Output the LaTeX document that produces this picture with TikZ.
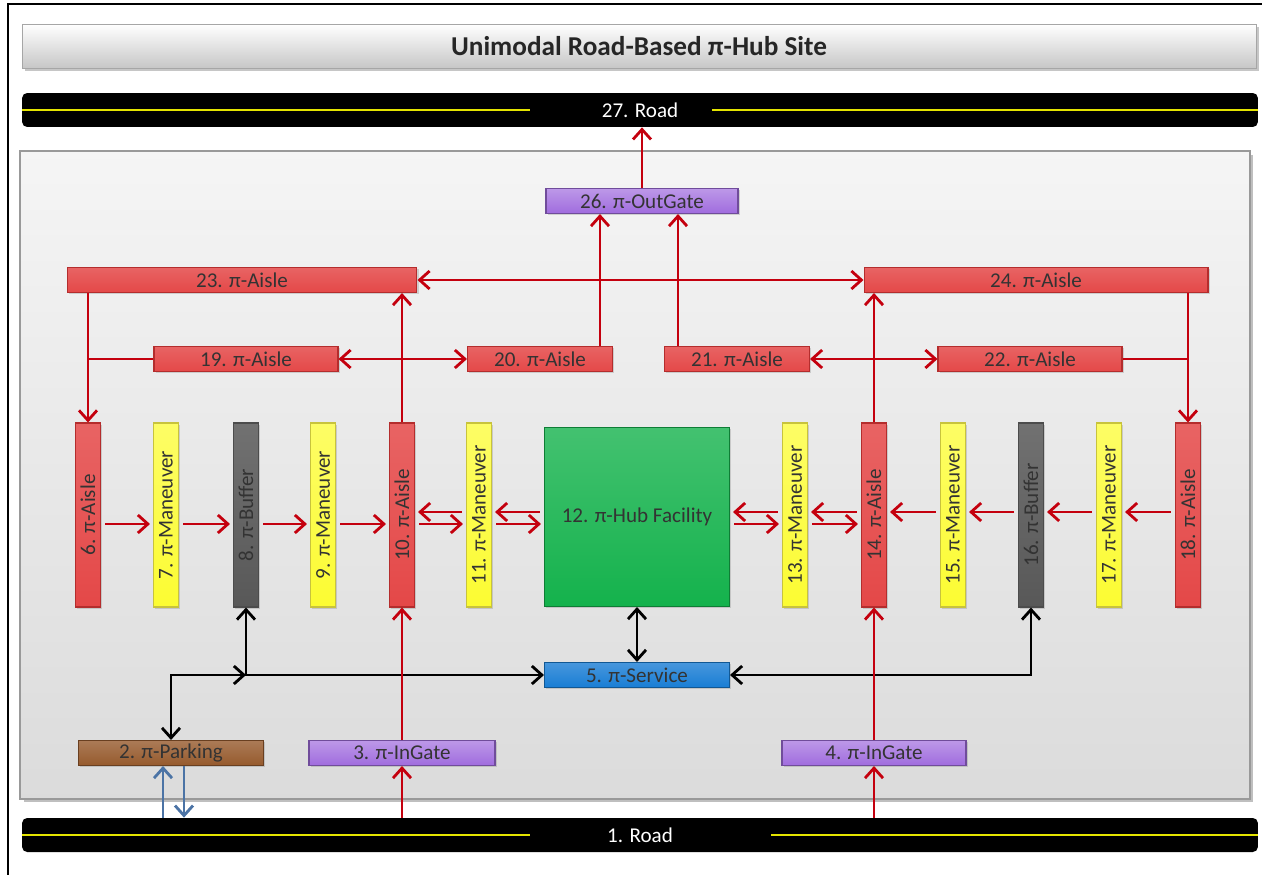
\documentclass[tikz,border=0pt]{standalone}
\usepackage{fontspec}
\setmainfont{Carlito}
\usetikzlibrary{arrows.meta,shadows}
\definecolor{aislered}{RGB}{228,72,72}
\definecolor{aisleedge}{RGB}{180,45,45}
\definecolor{manyellow}{RGB}{252,252,50}
\definecolor{manedge}{RGB}{200,195,60}
\definecolor{bufgray}{RGB}{88,88,88}
\definecolor{hubgreen}{RGB}{20,178,76}
\definecolor{servblue}{RGB}{25,125,212}
\definecolor{gatepurple}{RGB}{160,108,222}
\definecolor{parkbrown}{RGB}{150,90,45}
\definecolor{flowred}{RGB}{196,0,14}
\definecolor{walkblue}{RGB}{75,115,165}
\definecolor{lanegold}{RGB}{228,228,0}

\begin{document}
\begin{tikzpicture}[x=0.02cm, y=-0.02cm,
    >={Straight Barb[length=2mm,width=3.6mm]},
    box/.style={rectangle, inner sep=0pt, line width=0.6pt, text=black!80,
                font=\fontsize{12}{14}\selectfont,
                drop shadow={shadow xshift=1pt, shadow yshift=-1pt, opacity=0.3}},
    hbox/.style={box, minimum height=0.5cm},
    vbar/.style={box, minimum width=0.5cm, minimum height=3.68cm},
    aisle/.style={draw=aisleedge, top color=aislered!85!white, bottom color=aislered},
    maneuver/.style={draw=manedge, top color=manyellow!75!white, bottom color=manyellow},
    buffer/.style={draw=black!70, top color=bufgray!85!white, bottom color=bufgray},
    gate/.style={draw=gatepurple!70!black, top color=gatepurple!70!white, bottom color=gatepurple},
    parking/.style={draw=parkbrown!70!black, top color=parkbrown!80!white, bottom color=parkbrown},
    service/.style={draw=servblue!70!black, top color=servblue!80!white, bottom color=servblue},
    facility/.style={box, draw=hubgreen!70!black, top color=hubgreen!80!white, bottom color=hubgreen,
                     minimum width=3.7cm, minimum height=3.58cm},
    titlebar/.style={draw=black!35, top color=white, bottom color=black!22,
                     minimum width=24.68cm, minimum height=0.88cm, text=black!85,
                     font=\fontsize{15.5}{18}\selectfont\bfseries,
                     drop shadow={shadow xshift=1.5pt, shadow yshift=-1.5pt, opacity=0.45}},
    panel/.style={draw=black!40, line width=0.8pt, top color=black!4, bottom color=black!14,
                  minimum width=24.6cm, minimum height=12.96cm,
                  drop shadow={shadow xshift=2pt, shadow yshift=-2pt, opacity=0.5}},
    road/.style={fill=black, rounded corners=0.1cm, minimum width=24.72cm, minimum height=0.68cm,
                 text=white, font=\fontsize{12}{14}\selectfont},
    lane/.style={draw=lanegold, line width=1.2pt},
    flow/.style={draw=flowred, line width=1.6pt},
    row/.style={flow, ->, shorten <=0.08cm, shorten >=0.06cm},
    svc/.style={draw=black, line width=1.6pt},
    walk/.style={draw=walkblue, line width=1.6pt, ->}
]
\useasboundingbox (0,0) rectangle (1262,875);
\draw[line width=1pt] (8,875) -- (8,4) -- (1262,4);

\node[titlebar] (ttl) at (639,46) {Unimodal Road-Based π-Hub Site};
\node[road] (r27) at (640,110) {27. Road};
\draw[lane] (r27.west) -- (530,110);
\draw[lane] (712,110) -- (r27.east);
\node[road] (r1) at (640,835) {1. Road};
\draw[lane] (r1.west) -- (530,835);
\draw[lane] (771,835) -- (r1.east);

\node[panel] (site) at (635,475) {};

\node[hbox, gate, minimum width=3.84cm] (og) at (642,201) {26. π-OutGate};
\node[hbox, aisle, minimum width=7cm] (a23) at (242,280) {23. π-Aisle};
\node[hbox, aisle, minimum width=6.88cm] (a24) at (1036,280) {24. π-Aisle};
\node[hbox, aisle, minimum width=3.68cm] (a19) at (246,359) {19. π-Aisle};
\node[hbox, aisle, minimum width=2.9cm] (a20) at (540,359) {20. π-Aisle};
\node[hbox, aisle, minimum width=2.9cm] (a21) at (737,359) {21. π-Aisle};
\node[hbox, aisle, minimum width=3.68cm] (a22) at (1030,359) {22. π-Aisle};

\node[vbar, aisle] (a6) at (88,515) {\rotatebox{90}{6. π-Aisle}};
\node[vbar, maneuver] (m7) at (166,515) {\rotatebox{90}{7. π-Maneuver}};
\node[vbar, buffer] (b8) at (246,515) {\rotatebox{90}{8. π-Buffer}};
\node[vbar, maneuver] (m9) at (323,515) {\rotatebox{90}{9. π-Maneuver}};
\node[vbar, aisle] (a10) at (402,515) {\rotatebox{90}{10. π-Aisle}};
\node[vbar, maneuver] (m11) at (479,515) {\rotatebox{90}{11. π-Maneuver}};
\node[facility] (hub) at (637,517) {12. π-Hub Facility};
\node[vbar, maneuver] (m13) at (795,515) {\rotatebox{90}{13. π-Maneuver}};
\node[vbar, aisle] (a14) at (874,515) {\rotatebox{90}{14. π-Aisle}};
\node[vbar, maneuver] (m15) at (953,515) {\rotatebox{90}{15. π-Maneuver}};
\node[vbar, buffer] (b16) at (1031,515) {\rotatebox{90}{16. π-Buffer}};
\node[vbar, maneuver] (m17) at (1109,515) {\rotatebox{90}{17. π-Maneuver}};
\node[vbar, aisle] (a18) at (1188,515) {\rotatebox{90}{18. π-Aisle}};

\node[hbox, service, minimum width=3.7cm] (serv) at (637,675) {5. π-Service};
\node[hbox, parking, minimum width=3.7cm] (park) at (171,753) {2. π-Parking};
\node[hbox, gate, minimum width=3.72cm] (in3) at (402,753) {3. π-InGate};
\node[hbox, gate, minimum width=3.68cm] (in4) at (874,753) {4. π-InGate};

\draw[flow, ->] (og.north) -- (og.north |- r27.south);
\draw[flow, ->] ([xshift=1.2cm]a20.north) -- ([xshift=1.2cm]a20.north |- og.south);
\draw[flow, ->] ([xshift=-1.18cm]a21.north) -- ([xshift=-1.18cm]a21.north |- og.south);
\draw[flow, <->] (a23.east) -- (a24.west);
\draw[flow, <->] (a19.east) -- (a20.west);
\draw[flow, <->] (a21.east) -- (a22.west);
\draw[flow, ->] (a10.north) -- (a10.north |- a23.south);
\draw[flow, ->] (a14.north) -- (a14.north |- a24.south);
\draw[flow, ->] (a6.north |- a23.south) -- (a6.north);
\draw[flow] (a19.west) -- (a19.west -| a6.north);
\draw[flow, ->] (a18.north |- a24.south) -- (a18.north);
\draw[flow] (a22.east) -- (a22.east -| a18.north);

\foreach \a/\b in {a6/m7, m7/b8, b8/m9, m9/a10, a10/m11, m11/hub, hub/m13, m13/a14}
  \draw[row] ([yshift=-1.8mm]\a.east |- a6.east) -- ([yshift=-1.8mm]\b.west |- a6.east);
\foreach \a/\b in {m11/a10, hub/m11, m13/hub, a14/m13, m15/a14, b16/m15, m17/b16, a18/m17}
  \draw[row] ([yshift=0.6mm]\a.west |- a6.west) -- ([yshift=0.6mm]\b.east |- a6.west);

\draw[svc, <->] (hub.south) -- (serv.north);
\draw[svc, <->] (park.north) |- (serv.west);
\draw[svc, ->] (park.north |- serv.west) -- (b8.south |- serv.west);
\draw[svc, ->] (b8.south |- serv.west) -- (b8.south);
\draw[svc, <->] (serv.east) -| (b16.south);

\draw[flow, ->] (in3.north) -- (a10.south);
\draw[flow, ->] (in3.south |- r1.north) -- (in3.south);
\draw[flow, ->] (in4.north) -- (a14.south);
\draw[flow, ->] (in4.south |- r1.north) -- (in4.south);
\draw[walk] ([xshift=-0.16cm]park.south |- r1.north) -- ([xshift=-0.16cm]park.south);
\draw[walk] ([xshift=0.26cm]park.south) -- ([xshift=0.26cm]park.south |- r1.north);
\end{tikzpicture}
\end{document}
